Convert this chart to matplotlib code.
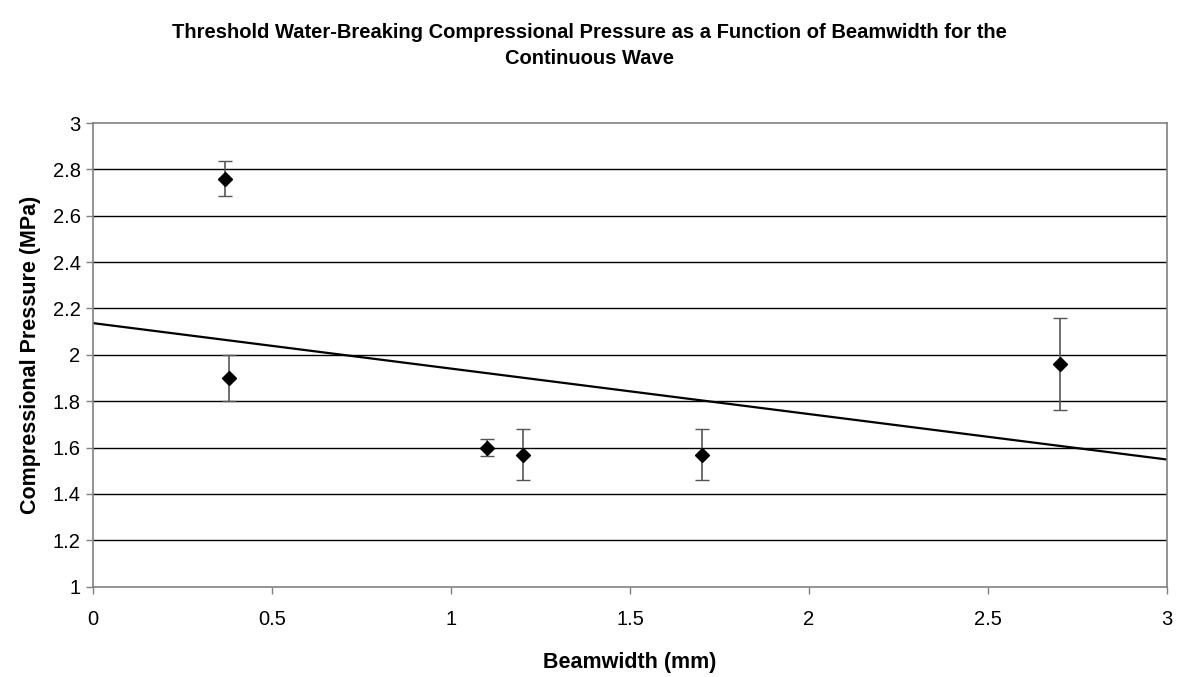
import numpy as np
import matplotlib
matplotlib.use("Agg")
import matplotlib.pyplot as plt

plt.rcParams['font.family'] = ['Liberation Sans', 'DejaVu Sans']

# beamwidth (mm) and threshold pressure (MPa) with error bar half-widths
beamwidth = [0.37, 0.38, 1.1, 1.2, 1.7, 2.7]
pressure = [2.76, 1.90, 1.60, 1.57, 1.57, 1.96]
pressure_err = [0.075, 0.10, 0.038, 0.11, 0.11, 0.20]

x_ticks = [0, 0.5, 1, 1.5, 2, 2.5, 3]
x_tick_labels = ['0', '0.5', '1', '1.5', '2', '2.5', '3']
y_ticks = [1, 1.2, 1.4, 1.6, 1.8, 2, 2.2, 2.4, 2.6, 2.8, 3]
y_tick_labels = ['1', '1.2', '1.4', '1.6', '1.8', '2', '2.2', '2.4', '2.6', '2.8', '3']

fig = plt.figure(figsize=(11.79, 6.77), dpi=100)
ax = fig.add_axes([0.0789, 0.1334, 0.9109, 0.6849])

# horizontal gridlines
for yv in y_ticks[1:-1]:
    ax.axhline(yv, color='black', lw=1.0, zorder=1)

# linear trend line through the points
slope, intercept = np.polyfit(beamwidth, pressure, 1)
xs = np.array([0, 3])
ax.plot(xs, slope * xs + intercept, color='black', lw=1.6, zorder=2)

ax.errorbar(beamwidth, pressure, yerr=pressure_err, fmt='D', color='black',
            markersize=7, ecolor='#555555', elinewidth=1.2, capsize=5.3,
            capthick=1.0, zorder=3)

ax.set_xlim(0, 3)
ax.set_ylim(1, 3)
ax.set_xticks(x_ticks)
ax.set_xticklabels(x_tick_labels)
ax.set_yticks(y_ticks)
ax.set_yticklabels(y_tick_labels)
ax.tick_params(axis='both', labelsize=14.5, direction='out', length=5,
               color='#808080', width=1)
ax.tick_params(axis='x', pad=12)
ax.tick_params(axis='y', pad=4)

for side in ['left', 'bottom', 'right', 'top']:
    ax.spines[side].set_color('#808080')
    ax.spines[side].set_linewidth(1.2)

ax.set_xlabel('Beamwidth (mm)', fontsize=15.5, fontweight='bold', labelpad=16)
ax.set_ylabel('Compressional Pressure (MPa)', fontsize=15.5, fontweight='bold',
              labelpad=8)

fig.text(0.5, 0.933, 'Threshold Water-Breaking Compressional Pressure as a Function of Beamwidth for the\nContinuous Wave',
         ha='center', va='center', fontsize=14.5, fontweight='bold',
         linespacing=1.5)

fig.savefig('out.png', dpi=100)
